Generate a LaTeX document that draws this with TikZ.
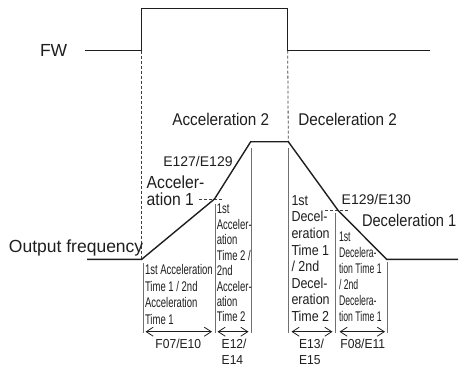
\documentclass[tikz,border=0pt]{standalone}
\usepackage{fontspec}
\setmainfont{Liberation Sans}
\newfontfamily\fBig{Liberation Sans}
\newfontfamily\fBigN[FakeStretch=0.9]{Liberation Sans}
\newfontfamily\fBigD[FakeStretch=0.86]{Liberation Sans}
\newfontfamily\fA[FakeStretch=0.68]{Liberation Sans}
\newfontfamily\fC[FakeStretch=0.86]{Liberation Sans}
\newfontfamily\fD[FakeStretch=0.62]{Liberation Sans}
\newfontfamily\fE[FakeStretch=0.93]{Liberation Sans}
\usetikzlibrary{arrows.meta}
\definecolor{ink}{HTML}{1E1E1E}
\definecolor{tickgray}{HTML}{707070}
\tikzset{
  sig/.style={line width=1.4pt, draw=ink, line join=miter},
  guide/.style={line width=0.8pt, draw=ink!85, dash pattern=on 3pt off 2pt},
  tickline/.style={line width=0.9pt, draw=tickgray},
  spanarrow/.style={line width=0.8pt, draw=ink, {Straight Barb[length=7pt,width=9pt]}-{Straight Barb[length=7pt,width=9pt]}},
  lbl/.style={inner sep=0pt, outer sep=0pt, text=ink},
  bigtxt/.style={lbl, font=\fBig\fontsize{17.5}{17}\selectfont},
  bigntxt/.style={lbl, font=\fBigN\fontsize{17}{17}\selectfont},
  smalltxt/.style={lbl, font=\fBig\fontsize{14}{16}\selectfont},
  bottxt/.style={lbl, font=\fE\fontsize{13}{16.7}\selectfont, align=left},
}
\begin{document}
\begin{tikzpicture}[x=1pt,y=-1pt]
\useasboundingbox (0,0) rectangle (460,367);
% FW signal
\coordinate (fw0) at (85,50.7);
\coordinate (fwr) at (141.7,50.7);
\coordinate (fwrt) at (141.7,8.3);
\coordinate (fwft) at (287.7,8.3);
\coordinate (fwf) at (287.7,50.7);
\coordinate (fw1) at (430,50.7);
% output frequency
\coordinate (o0) at (87,259.3);
\coordinate (os) at (141.7,259.3);
\coordinate (k1) at (214.5,199);
\coordinate (p1) at (250.7,141.7);
\coordinate (p2) at (288.3,141.7);
\coordinate (k2) at (338.3,210.7);
\coordinate (oe) at (386.7,259.3);
\coordinate (o1) at (458,259.3);
% knee guides
\coordinate (g1a) at (199,199);
\coordinate (g1b) at (223,199);
\coordinate (g2a) at (325,210.7);
\coordinate (g2b) at (348,210.7);
% tick lines
\coordinate (t1a) at (143,263);   \coordinate (t1b) at (143,333.3);
\coordinate (t2a) at (215.3,204); \coordinate (t2b) at (215.3,333.3);
\coordinate (t3a) at (251.3,148); \coordinate (t3b) at (251.3,333.3);
\coordinate (t4a) at (288.3,148); \coordinate (t4b) at (288.3,333.3);
\coordinate (t5a) at (335.8,213); \coordinate (t5b) at (335.8,333.3);
\coordinate (t6a) at (387.3,262); \coordinate (t6b) at (387.3,333.3);
% arrow ends
\coordinate (aA1) at (145.5,331.7); \coordinate (aA2) at (212,331.7);
\coordinate (aB1) at (217.5,331.7); \coordinate (aB2) at (248.5,331.7);
\coordinate (aC1) at (291.5,331.7); \coordinate (aC2) at (332.5,331.7);
\coordinate (aD1) at (339.5,331.7); \coordinate (aD2) at (385,331.7);

\draw[guide] (fwr) -- (os);
\draw[guide] (fwf) -- (p2);
\draw[guide] (g1a) -- (g1b);
\draw[guide] (g2a) -- (g2b);

\draw[tickline] (t1a) -- (t1b);
\draw[tickline] (t2a) -- (t2b);
\draw[tickline] (t3a) -- (t3b);
\draw[tickline] (t4a) -- (t4b);
\draw[tickline] (t5a) -- (t5b);
\draw[tickline] (t6a) -- (t6b);

\draw[sig] (fw0) -- (fwr) -- (fwrt) -- (fwft) -- (fwf) -- (fw1);
\draw[sig] (o0) -- (os) -- (k1) -- (p1) -- (p2) -- (k2) -- (oe) -- (o1);

\draw[spanarrow] (aA1) -- (aA2);
\draw[spanarrow] (aB1) -- (aB2);
\draw[spanarrow] (aC1) -- (aC2);
\draw[spanarrow] (aD1) -- (aD2);

% big labels
\node[bigtxt, anchor=west] (fw) at (40,50.7) {FW};
\node[bigtxt, anchor=base west] (outf) at (9,252.3) {Output frequency};
\node[bigntxt, anchor=base west] (acc2) at (172.3,125.6) {Acceleration 2};
\node[bigntxt, anchor=base west] (dec2) at (298.3,125.6) {Deceleration 2};
\node[lbl, font=\fBigD\fontsize{17}{17}\selectfont, anchor=base west] (dec1) at (362,226.2) {Deceleration 1};
\node[lbl, font=\fBigN\fontsize{17.5}{17}\selectfont, align=left, anchor=north west] (acc1) at (146.7,176.1) {Acceler-\\ation 1};
% small labels
\node[smalltxt, anchor=base west] (e127) at (163.3,166) {E127/E129};
\node[smalltxt, anchor=base west] (e129) at (341.7,204.3) {E129/E130};
% narrow blocks
\node[lbl, font=\fA\fontsize{14}{16.7}\selectfont, align=left, anchor=north west] (blkA) at (145,264.3)
  {1st Acceleration\\Time 1 / 2nd\\Acceleration\\Time 1};
\node[lbl, font=\fA\fontsize{14}{15.43}\selectfont, align=left, anchor=north west] (blkB) at (216.8,204.3)
  {1st\\Acceler-\\ation\\Time 2 /\\2nd\\Acceler-\\ation\\Time 2};
\node[lbl, font=\fC\fontsize{14.5}{16.57}\selectfont, align=left, anchor=north west] (blkC) at (291.5,195.4)
  {1st\\Decel-\\eration\\Time 1\\/ 2nd\\Decel-\\eration\\Time 2};
\node[lbl, font=\fD\fontsize{14}{16.1}\selectfont, align=left, anchor=north west] (blkD) at (339,231.7)
  {1st\\Decelera-\\tion Time 1\\/ 2nd\\Decelera-\\tion Time 1};
% bottom labels
\node[bottxt, anchor=base] (f07) at (178.3,348) {F07/E10};
\node[bottxt, anchor=north west] (e12) at (221.7,338.6) {E12/\\E14};
\node[bottxt, anchor=north west] (e13) at (299,338.6) {E13/\\E15};
\node[bottxt, anchor=base] (f08) at (362.8,348) {F08/E11};
\end{tikzpicture}
\end{document}
